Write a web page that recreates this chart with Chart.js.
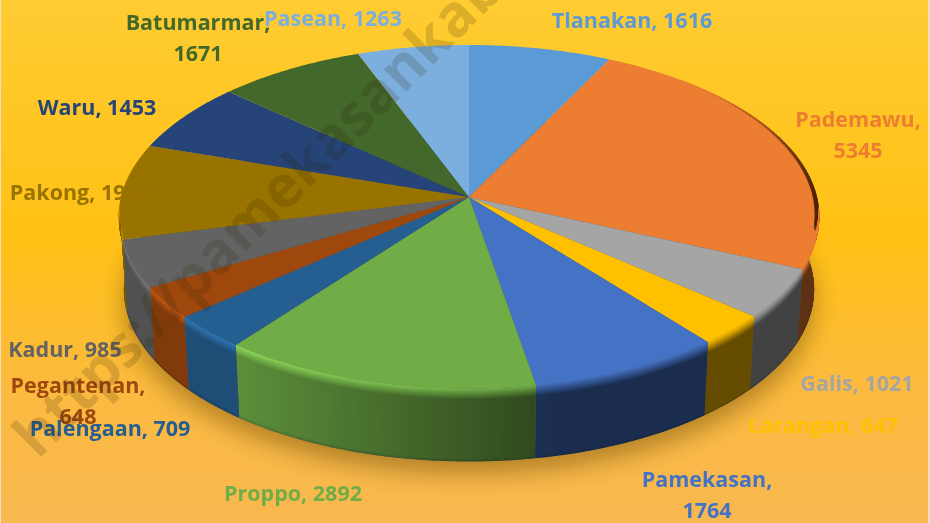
<!DOCTYPE html>
<html>
<head>
<meta charset="utf-8">
<title>Pie 3D</title>
<script src="https://cdn.jsdelivr.net/npm/chart.js@4"></script>
<style>
  html, body { margin: 0; padding: 0; background: #f3e3c0; }
  canvas { display: block; }
</style>
</head>
<body>
<canvas id="pie3d" width="930" height="523"></canvas>
<script>
const kecamatan = ["Tlanakan", "Pademawu", "Galis", "Larangan", "Pamekasan", "Proppo", "Palengaan",
    "Pegantenan", "Kadur", "Pakong", "Waru", "Batumarmar", "Pasean"];
const penduduk = [1616, 5345, 1021, 647, 1764, 2892, 709, 648, 985, 1973, 1453, 1671, 1263];
const warna = ["#5B9BD5", "#ED7D31", "#A5A5A5", "#FFC000", "#4472C4", "#70AD47", "#255E91",
    "#9E480E", "#636363", "#997300", "#264478", "#43682B", "#7CAFDD"];

// label layout: [center x, first line y], the text wraps like in the original
const posisiLabel = [[632, 22], [858, 121], [857, 385], [823, 427], [707, 481], [293, 495], [110, 430],
    [78, 387], [65, 351], [80, 194], [97, 109], [198, 24], [333, 20]];
const labelDuaBaris = [1, 4, 7, 11];

// tilted disc: center, radius, vertical radius, perspective, wall height
const CX = 469, CY = 197, RX = 348, RY = 169.5, PERSP = 0.115, TEBAL = 73;
const SKALA_BAWAH = 0.985, BEVEL = 9;

function proyeksi(theta) {
    const u = Math.sin(theta), v = -Math.cos(theta);
    const w = 1 - PERSP * v;
    return { x: CX + RX * u / w, y: CY + RY * v / w, v };
}

function bawah(p) {
    return { x: CX + (p.x - CX) * SKALA_BAWAH, y: p.y + TEBAL };
}

function kaliWarna(hex, f) {
    const n = parseInt(hex.slice(1), 16);
    const c = [n >> 16, (n >> 8) & 255, n & 255].map(p => Math.min(255, p * f) | 0);
    return `rgb(${c.join(",")})`;
}

function sudut(arc) {
    return [arc.startAngle + Math.PI / 2, arc.endAngle + Math.PI / 2];
}

function titikBusur(a0, a1, langkah) {
    const hasil = [];
    for (let t = a0; t < a1; t += langkah) hasil.push(proyeksi(t));
    hasil.push(proyeksi(a1));
    return hasil;
}

function gambarDinding(ctx, arcs) {
    const langkah = Math.PI / 360;
    arcs.forEach(arc => {
        const warnaArc = arc.options.backgroundColor;
        const [a0, a1] = sudut(arc);
        // keep the bevel inside its own slice
        const rim = titikBusur(a0, a1, 0.01);
        ctx.save();
        ctx.beginPath();
        ctx.moveTo(CX, CY);
        rim.forEach(p => ctx.lineTo(p.x, p.y));
        for (let i = rim.length - 1; i >= 0; i--) {
            const b = bawah(rim[i]);
            ctx.lineTo(b.x, b.y);
        }
        ctx.lineTo(rim[0].x, rim[0].y);
        ctx.closePath();
        ctx.clip();

        for (let t = a0; t < a1; t += langkah) {
            const t2 = Math.min(t + langkah, a1);
            const p = proyeksi(t), q = proyeksi(t2);
            if ((p.v + q.v) / 2 <= 0.1) continue;
            const xm = (p.x + q.x) / 2, ym = (p.y + q.y) / 2;
            // lighter toward the left, like the lit side of the original
            const k = Math.max(0, Math.min(1, (xm - 240) / 320));
            const f = 0.82 - 0.42 * k;
            const g = ctx.createLinearGradient(0, ym - BEVEL, 0, ym + TEBAL);
            g.addColorStop(0, warnaArc);
            g.addColorStop(0.1, kaliWarna(warnaArc, 1 + 0.3 * (1 - k)));
            g.addColorStop(0.24, kaliWarna(warnaArc, f));
            g.addColorStop(0.96, kaliWarna(warnaArc, f));
            g.addColorStop(1, kaliWarna(warnaArc, f * 0.85));
            ctx.fillStyle = g;
            const dx = q.x >= p.x ? 0.6 : -0.6;
            const pb = bawah(p), qb = bawah(q);
            ctx.beginPath();
            ctx.moveTo(p.x - dx, p.y - BEVEL);
            ctx.lineTo(q.x + dx, q.y - BEVEL);
            ctx.lineTo(qb.x + dx, qb.y);
            ctx.lineTo(pb.x - dx, pb.y);
            ctx.closePath();
            ctx.fill();
        }
        ctx.restore();
    });
}

function gambarTepiGelap(ctx, dari, sampai, warnaTepi, naik) {
    ctx.lineCap = "round";
    for (let deg = dari; deg < sampai; deg += 1) {
        const p = proyeksi(deg * Math.PI / 180), q = proyeksi((deg + 1) * Math.PI / 180);
        const s = naik ? (deg - dari) / (sampai - dari) : 1;
        ctx.strokeStyle = `rgba(${warnaTepi},${s * 0.7})`;
        ctx.lineWidth = 1 + s * 9;
        ctx.beginPath();
        ctx.moveTo(p.x, p.y);
        ctx.lineTo(q.x, q.y);
        ctx.stroke();
    }
}

const pie3dPlugin = {
    id: "pie3d",
    beforeDraw(chart) {
        const { ctx, width, height } = chart;
        const g = ctx.createLinearGradient(0, 0, 0, height);
        g.addColorStop(0, "#FFCC33");
        g.addColorStop(0.45, "#FFC114");
        g.addColorStop(0.75, "#FCBA40");
        g.addColorStop(1, "#F8B850");
        ctx.fillStyle = g;
        ctx.fillRect(0, 0, width, height);
        ctx.fillStyle = "#f0e0c0";
        ctx.fillRect(0, 0, 1, height);
        ctx.fillRect(width - 2, 0, 2, height);
    },
    beforeDatasetsDraw(chart) {
        const { ctx } = chart;
        const arcs = chart.getDatasetMeta(0).data;

        // soft shadow under the pie
        ctx.save();
        ctx.shadowColor = "rgba(90,60,0,0.45)";
        ctx.shadowBlur = 24;
        ctx.shadowOffsetY = 12;
        ctx.fillStyle = "#555";
        ctx.beginPath();
        titikBusur(0, Math.PI * 2, 0.03).forEach(p => {
            const b = bawah(p);
            ctx.lineTo(b.x, b.y);
        });
        ctx.closePath();
        ctx.fill();
        ctx.restore();

        // top face
        arcs.forEach(arc => {
            const [a0, a1] = sudut(arc);
            ctx.fillStyle = arc.options.backgroundColor;
            ctx.beginPath();
            ctx.moveTo(CX, CY);
            titikBusur(a0, a1, 0.01).forEach(p => ctx.lineTo(p.x, p.y));
            ctx.closePath();
            ctx.fill();
        });

        // dark rim, kept inside the face
        ctx.save();
        ctx.beginPath();
        titikBusur(0, Math.PI * 2, 0.01).forEach(p => ctx.lineTo(p.x, p.y));
        ctx.closePath();
        ctx.clip();
        gambarTepiGelap(ctx, 40, 100, "70,30,0", true);
        ctx.restore();

        gambarDinding(ctx, arcs);
        return false;
    },
    afterDraw(chart) {
        const { ctx } = chart;
        ctx.save();
        ctx.textAlign = "center";
        ctx.textBaseline = "middle";
        ctx.font = "bold 21.5px 'Open Sans'";
        kecamatan.forEach((nama, i) => {
            const [x, y] = posisiLabel[i];
            ctx.fillStyle = warna[i];
            if (labelDuaBaris.includes(i)) {
                ctx.fillText(nama + ",", x, y);
                ctx.fillText(String(penduduk[i]), x, y + 31);
            } else {
                ctx.fillText(`${nama}, ${penduduk[i]}`, x, y);
            }
        });
        ctx.restore();

        // watermark
        ctx.save();
        ctx.translate(38, 460);
        ctx.rotate(-Math.PI * 0.25);
        ctx.font = "bold 58px 'Open Sans'";
        ctx.textBaseline = "alphabetic";
        ctx.fillStyle = "rgba(40,30,0,0.17)";
        ctx.fillText("https://pamekasankab.go.id", 0, 0);
        ctx.restore();
    }
};

new Chart(document.getElementById("pie3d"), {
    type: "pie",
    data: {
        labels: kecamatan,
        datasets: [{ data: penduduk, backgroundColor: warna, borderWidth: 0 }]
    },
    options: {
        responsive: false,
        animation: false,
        plugins: { legend: { display: false }, tooltip: { enabled: false } }
    },
    plugins: [pie3dPlugin]
});
</script>
</body>
</html>
